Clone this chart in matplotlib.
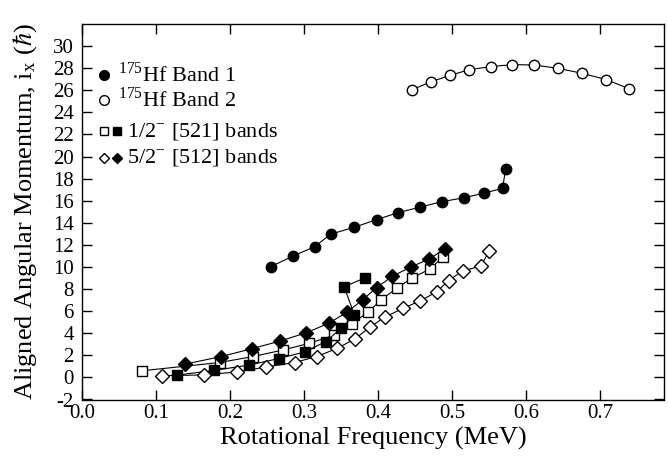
import matplotlib
matplotlib.use("Agg")
import matplotlib.pyplot as plt

plt.rcParams['font.family'] = ['Liberation Serif', 'DejaVu Serif']
plt.rcParams['mathtext.fontset'] = 'stix'

band1_x = [0.255, 0.285, 0.314, 0.336, 0.368, 0.398, 0.427, 0.457, 0.486, 0.516, 0.543, 0.568, 0.572]
band1_y = [10.03, 10.99, 11.83, 12.97, 13.60, 14.29, 14.92, 15.43, 15.91, 16.27, 16.69, 17.12, 18.83]

band2_x = [0.4455, 0.471, 0.497, 0.523, 0.552, 0.581, 0.610, 0.643, 0.675, 0.708, 0.739]
band2_y = [26.04, 26.76, 27.35, 27.86, 28.14, 28.32, 28.29, 27.99, 27.54, 26.97, 26.13]

sq_open_x = [0.081, 0.186, 0.231, 0.272, 0.307, 0.340, 0.364, 0.386, 0.404, 0.425, 0.446, 0.470, 0.487]
sq_open_y = [0.60, 1.35, 1.89, 2.49, 3.09, 3.81, 4.86, 5.88, 7.03, 8.07, 9.01, 9.82, 10.87]

sq_fill_x = [0.128, 0.178, 0.225, 0.266, 0.301, 0.329, 0.350, 0.368, 0.354, 0.382]
sq_fill_y = [0.21, 0.63, 1.11, 1.71, 2.31, 3.24, 4.44, 5.64, 8.20, 9.01]

dm_fill_x = [0.139, 0.188, 0.230, 0.268, 0.303, 0.333, 0.358, 0.379, 0.398, 0.419, 0.444, 0.469, 0.490]
dm_fill_y = [1.20, 1.89, 2.61, 3.30, 4.05, 4.89, 5.91, 7.03, 8.14, 9.15, 10.00, 10.72, 11.65]

dm_open_x = [0.1085, 0.165, 0.210, 0.249, 0.287, 0.317, 0.345, 0.369, 0.389, 0.409, 0.433, 0.457, 0.479, 0.495, 0.514, 0.539, 0.550]
dm_open_y = [0.15, 0.23, 0.50, 0.95, 1.35, 1.89, 2.64, 3.51, 4.56, 5.46, 6.24, 6.94, 7.75, 8.77, 9.64, 10.09, 11.47]

x_ticks = [0.0, 0.1, 0.2, 0.3, 0.4, 0.5, 0.6, 0.7]
y_ticks = list(range(-2, 31, 2))

legend_labels = [r'$^{\mathregular{175}}$Hf Band 1', r'$^{\mathregular{175}}$Hf Band 2',
                 r'1/2$^{\mathregular{-}}$ [521] bands', r'5/2$^{\mathregular{-}}$ [512] bands']

W, H = 668, 473
fig = plt.figure(figsize=(W / 100, H / 100), dpi=100)
ax = fig.add_axes([82 / W, 1 - 399.5 / H, 582 / W, 375.5 / H])

lw = 0.8
ms = 7.5
ax.plot(band1_x, band1_y, '-', color='black', lw=lw, marker='o', ms=ms, mfc='black', mec='black', zorder=3)
ax.plot(band2_x, band2_y, '-', color='black', lw=lw, marker='o', ms=ms, mfc='white', mec='black', mew=1.0, zorder=3)
ax.plot(sq_open_x, sq_open_y, '-', color='black', lw=lw, marker='s', ms=ms - 0.5, mfc='white', mec='black', mew=1.0, zorder=3)
ax.plot(sq_fill_x, sq_fill_y, '-', color='black', lw=lw, marker='s', ms=ms - 0.5, mfc='black', mec='black', zorder=3)
ax.plot(dm_fill_x, dm_fill_y, '-', color='black', lw=lw, marker='D', ms=ms - 0.5, mfc='black', mec='black', zorder=3)
ax.plot(dm_open_x, dm_open_y, '-', color='black', lw=lw, marker='D', ms=ms - 0.5, mfc='white', mec='black', mew=1.0, zorder=3)

ax.set_xlim(0.0, 0.786)
ax.set_ylim(-2, 32)
ax.set_xticks(x_ticks)
ax.set_xticklabels([f"{v:.1f}" for v in x_ticks])
ax.set_yticks(y_ticks)
ax.set_yticklabels([str(v) for v in y_ticks])
ax.tick_params(direction='in', top=True, right=True, length=7, width=1.0, labelsize=15)
ax.tick_params(axis='x', pad=3)
ax.tick_params(axis='y', pad=6)
for s in ax.spines.values():
    s.set_linewidth(1.0)

ax.set_xlabel('Rotational Frequency (MeV)', fontsize=19, labelpad=3)
ax.set_ylabel(r'Aligned Angular Momentum, i$_\mathregular{x}$ ($\hbar$)', fontsize=19, labelpad=10)

# manual legend (figure-pixel placement)
def fx(px):
    return px / W

def fy(py):
    return 1 - py / H

lms = 7
rows_y = [75, 100, 131.5, 158]
fig.add_artist(plt.Line2D([fx(104)], [fy(rows_y[0])], ls='none', marker='o', ms=lms, mfc='black', mec='black'))
fig.add_artist(plt.Line2D([fx(104)], [fy(rows_y[1])], ls='none', marker='o', ms=lms, mfc='white', mec='black'))
fig.add_artist(plt.Line2D([fx(104)], [fy(rows_y[2])], ls='none', marker='s', ms=lms - 1, mfc='white', mec='black'))
fig.add_artist(plt.Line2D([fx(117)], [fy(rows_y[2])], ls='none', marker='s', ms=lms - 1, mfc='black', mec='black'))
fig.add_artist(plt.Line2D([fx(104)], [fy(rows_y[3])], ls='none', marker='D', ms=lms - 1.5, mfc='white', mec='black'))
fig.add_artist(plt.Line2D([fx(117)], [fy(rows_y[3])], ls='none', marker='D', ms=lms - 1.5, mfc='black', mec='black'))
text_x = [118, 118, 127, 127]
for lab, tx, ty in zip(legend_labels, text_x, rows_y):
    fig.text(fx(tx), fy(ty), lab, fontsize=16, va='center', ha='left')

fig.savefig('out.png', dpi=100)
